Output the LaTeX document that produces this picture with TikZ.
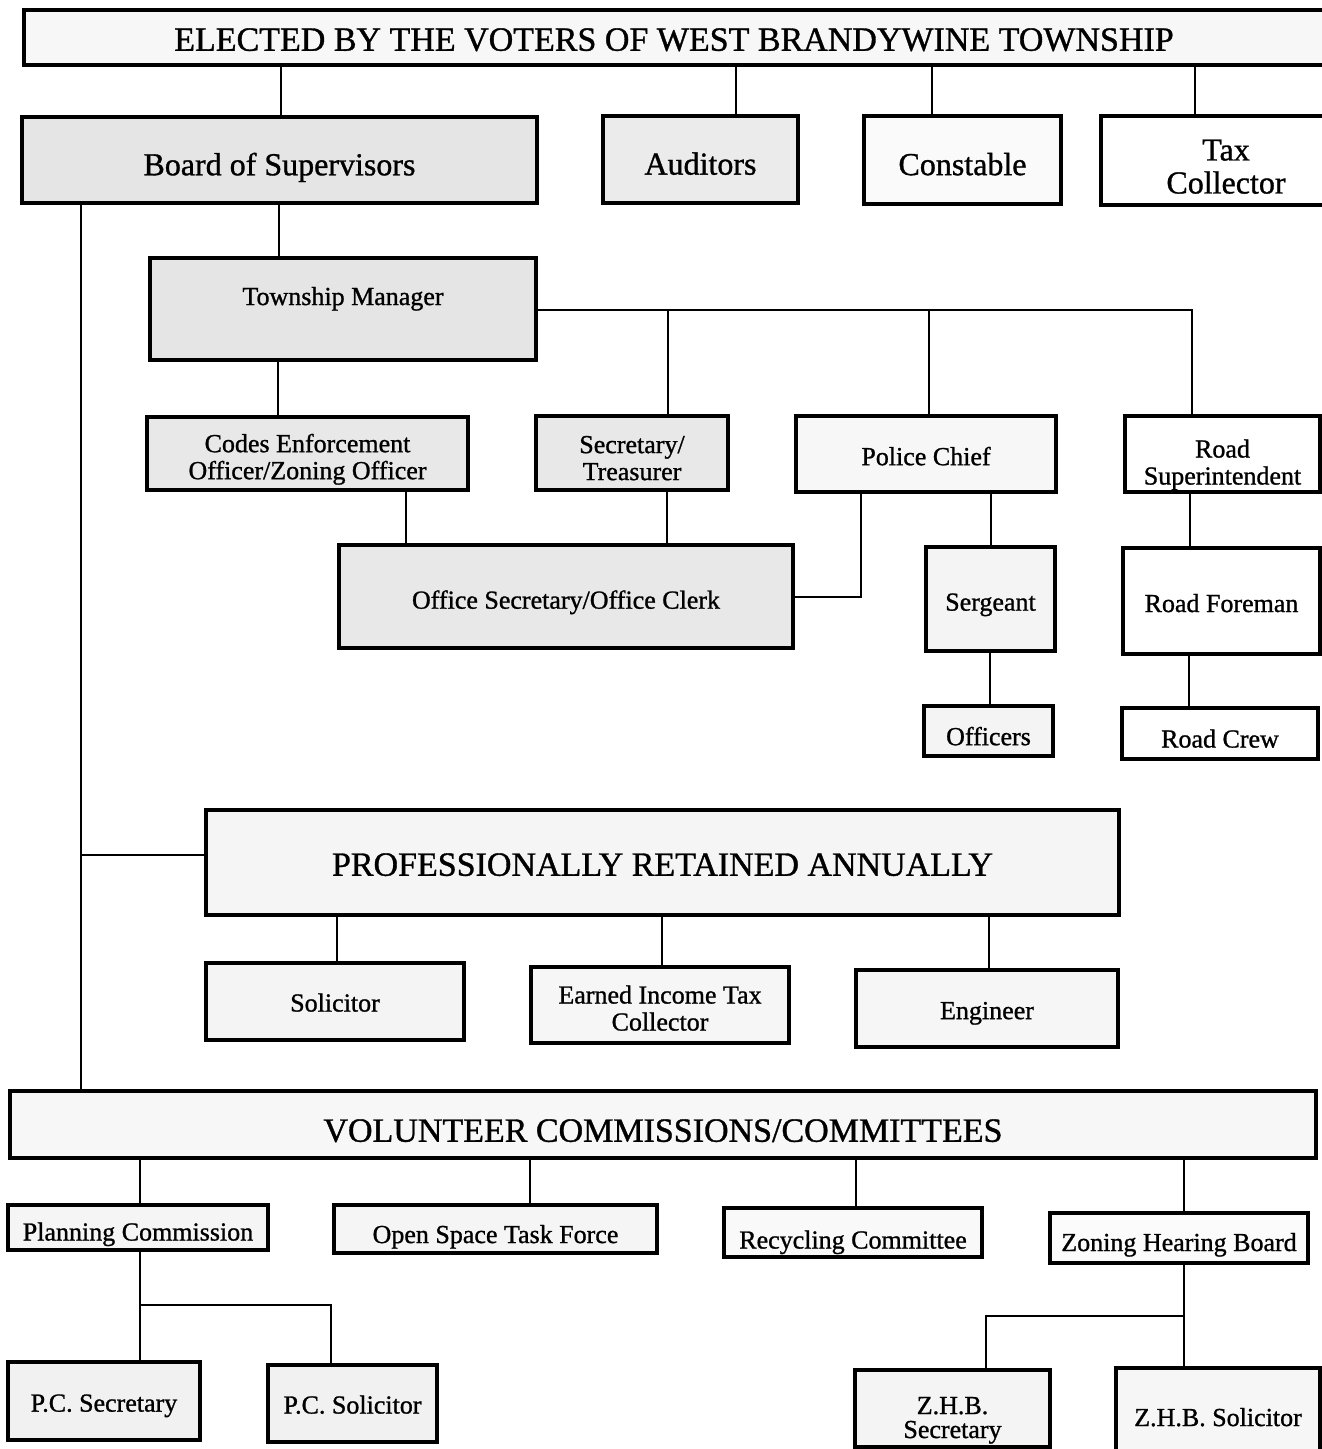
\documentclass[tikz,border=0pt]{standalone}
\usepackage{fontspec}
\setmainfont{Liberation Serif}[FakeBold=1]
\newcommand\dn[2]{\raisebox{0pt}[\dimexpr\height+#1\relax][\depth]{#2}}
\begin{document}
\begin{tikzpicture}[x=1pt,y=-1pt,
  box/.style={draw=black, line width=3.2pt, rectangle, inner sep=2pt, align=center,
              text depth=0pt, font=\fontsize{26}{27}\selectfont},
  bigbox/.style={box, font=\fontsize{32}{33}\selectfont},
  titlebox/.style={box, font=\fontsize{34}{36}\selectfont},
  conn/.style={draw=black, line width=2.6pt},
  sz/.style 2 args={minimum width=#1pt, minimum height=#2pt}]
\fill[white] (0,0) rectangle (1322,1449);
\useasboundingbox (0,0) rectangle (1322,1449);

% ---------- elected tier ----------
\node[titlebox, fill=gray!6, sz={1300}{55}] (top) at (674,37.5) {\dn{4pt}{ELECTED BY THE VOTERS OF WEST BRANDYWINE TOWNSHIP}};
\node[bigbox, fill=gray!20, sz={515}{86}] (board) at (279.5,160) {\dn{8pt}{Board of Supervisors}};
\node[bigbox, fill=gray!16, sz={195}{87}] (aud) at (700.5,159.5) {\dn{8pt}{Auditors}};
\node[bigbox, fill=gray!4, sz={197}{88}] (const) at (962.5,160) {\dn{8pt}{Constable}};
\node[bigbox, fill=white, sz={250}{89}] (tax) at (1226,160.5) {\dn{12pt}{Tax}\\Collector};

% ---------- manager tier ----------
\node[box, fill=gray!20, sz={386}{102}] (tm) at (343,309) {\raisebox{26pt}{Township Manager}};
\node[box, fill=gray!18, sz={321}{73}] (codes) at (307.5,453.5) {\dn{6pt}{Codes Enforcement}\\Officer/Zoning Officer};
\node[box, fill=gray!18, sz={192}{74}] (sect) at (632,453) {\dn{10pt}{Secretary/}\\Treasurer};
\node[box, fill=gray!6, sz={260}{76}] (police) at (926,454) {\dn{4pt}{Police Chief}};
\node[box, fill=white, sz={195}{76}] (roadsup) at (1222.5,454) {\dn{16pt}{Road}\\Superintendent};
\node[box, fill=gray!18, sz={454}{103}] (office) at (566,596.5) {\dn{6pt}{Office Secretary/Office Clerk}};
\node[box, fill=gray!9, sz={129}{104}] (serg) at (990.5,599) {\dn{6pt}{Sergeant}};
\node[box, fill=gray!9, sz={129}{50}] (officers) at (988.5,731) {\dn{10pt}{Officers}};
\node[box, fill=white, sz={197}{106}] (foreman) at (1221.5,601) {\dn{4pt}{Road Foreman}};
\node[box, fill=white, sz={196}{51}] (crew) at (1220,733.5) {\dn{10pt}{Road Crew}};

% ---------- professional tier ----------
\node[titlebox, fill=gray!8, sz={913}{105}] (prof) at (662.5,862.5) {\dn{4pt}{PROFESSIONALLY RETAINED ANNUALLY}};
\node[box, fill=gray!9, sz={258}{77}] (solic) at (335,1001.5) {\dn{2pt}{Solicitor}};
\node[box, fill=gray!7, sz={258}{76}] (eit) at (660,1005) {\dn{6pt}{Earned Income Tax}\\Collector};
\node[box, fill=gray!7, sz={262}{77}] (eng) at (987,1008.5) {\dn{4pt}{Engineer}};

% ---------- volunteer tier ----------
\node[titlebox, fill=gray!6, sz={1306}{67}] (vol) at (663,1124.5) {\dn{12pt}{VOLUNTEER COMMISSIONS/COMMITTEES}};
\node[box, fill=gray!8, sz={260}{45}] (plan) at (138,1227.5) {\dn{8pt}{Planning Commission}};
\node[box, fill=gray!8, sz={323}{48}] (open) at (495.5,1229) {\dn{10pt}{Open Space Task Force}};
\node[box, fill=gray!5, sz={258}{49}] (recyc) at (853,1232.5) {\dn{14pt}{Recycling Committee}};
\node[box, fill=gray!3, sz={258}{50}] (zhb) at (1179,1238) {\dn{8pt}{Zoning Hearing Board}};
\node[box, fill=gray!11, sz={192}{78}] (pcsec) at (104,1401) {\dn{4pt}{P.C. Secretary}};
\node[box, fill=gray!11, sz={169}{77}] (pcsol) at (352.5,1403.5) {\dn{2pt}{P.C. Solicitor}};
\node[box, fill=gray!9, sz={195}{77}, font=\fontsize{26}{24}\selectfont] (zhbsec) at (952.5,1408.5) {\dn{18pt}{Z.H.B.}\\Secretary};
\node[box, fill=gray!7, sz={204}{98}] (zhbsol) at (1218,1417) {Z.H.B. Solicitor};

% ---------- connectors ----------
\draw[conn] (top.south -| 281,0) -- (board.north -| 281,0);
\draw[conn] (top.south -| 736,0) -- (aud.north -| 736,0);
\draw[conn] (top.south -| 932,0) -- (const.north -| 932,0);
\draw[conn] (top.south -| 1195,0) -- (tax.north -| 1195,0);

\draw[conn] (board.south -| 279,0) -- (tm.north -| 279,0);
\coordinate (lj) at (81,855);
\draw[conn] (board.south -| 81,0) -- (vol.north -| 81,0);
\draw[conn] (lj) -- (prof.west |- lj);

\draw[conn] (tm.south -| 278,0) -- (codes.north -| 278,0);
\coordinate (tmj) at (tm.east |- 0,310);
\draw[conn] (tmj) -| (roadsup.north -| 1192,0);
\draw[conn] (668,310) -- (sect.north -| 668,0);
\draw[conn] (929,310) -- (police.north -| 929,0);

\draw[conn] (codes.south -| 406,0) -- (office.north -| 406,0);
\draw[conn] (sect.south -| 667,0) -- (office.north -| 667,0);
\draw[conn] (police.south -| 861,0) |- (office.east |- 0,597);
\draw[conn] (police.south -| 991,0) -- (serg.north -| 991,0);
\draw[conn] (serg.south -| 990,0) -- (officers.north -| 990,0);
\draw[conn] (roadsup.south -| 1190,0) -- (foreman.north -| 1190,0);
\draw[conn] (foreman.south -| 1189,0) -- (crew.north -| 1189,0);

\draw[conn] (prof.south -| 337,0) -- (solic.north -| 337,0);
\draw[conn] (prof.south -| 662,0) -- (eit.north -| 662,0);
\draw[conn] (prof.south -| 989,0) -- (eng.north -| 989,0);

\draw[conn] (vol.south -| 140,0) -- (plan.north -| 140,0);
\draw[conn] (vol.south -| 530,0) -- (open.north -| 530,0);
\draw[conn] (vol.south -| 856,0) -- (recyc.north -| 856,0);
\draw[conn] (vol.south -| 1184,0) -- (zhb.north -| 1184,0);

\coordinate (pj) at (140,1305);
\draw[conn] (plan.south -| 140,0) -- (pcsec.north -| 140,0);
\draw[conn] (pj) -| (pcsol.north -| 331,0);
\coordinate (zj) at (1184,1316);
\draw[conn] (zhb.south -| 1184,0) -- (zhbsol.north -| 1184,0);
\draw[conn] (zj) -| (zhbsec.north -| 986,0);
\end{tikzpicture}
\end{document}
